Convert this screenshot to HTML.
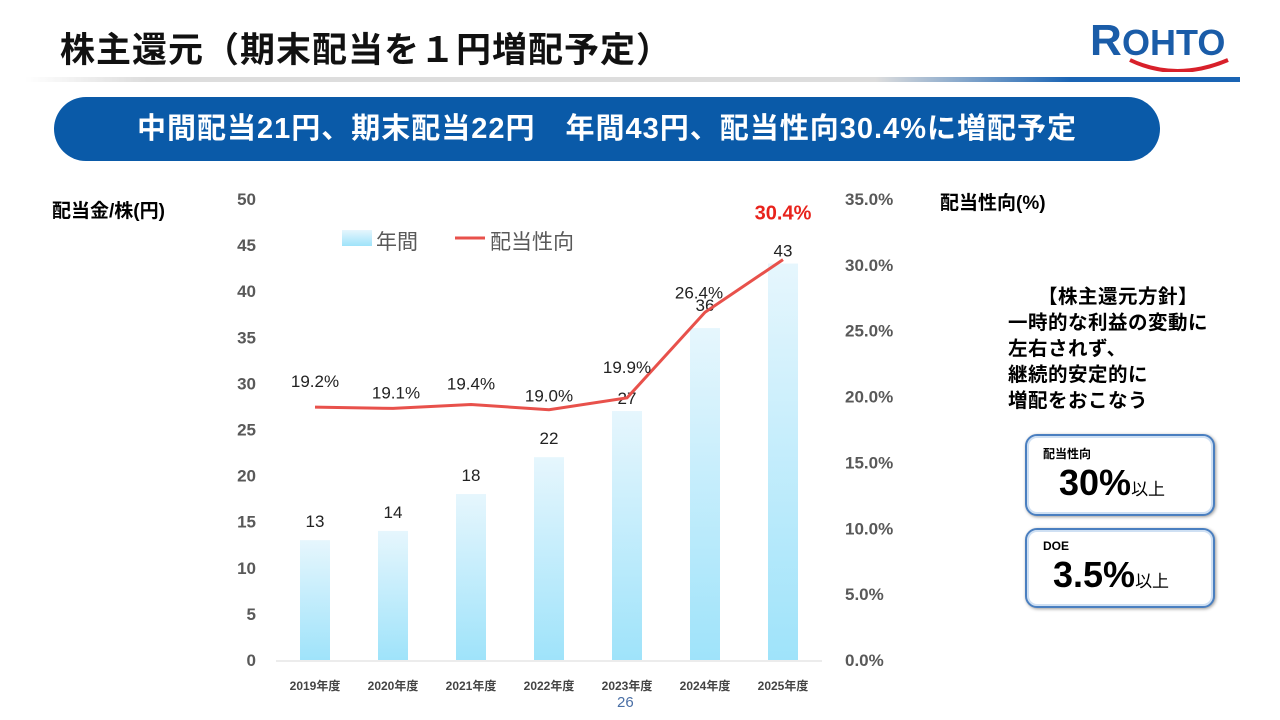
<!DOCTYPE html>
<html><head><meta charset="utf-8">
<style>
body{margin:0;width:1280px;height:720px;background:#fff;position:relative;overflow:hidden;font-family:"Liberation Sans","Noto Sans CJK JP",sans-serif;}
.abs{position:absolute;}
.title{left:60px;top:22px;font-size:35px;font-weight:bold;color:#111;letter-spacing:1px;}
.hline{left:25px;top:77px;width:1215px;height:5px;background:linear-gradient(90deg,#fff 0%,#ddd 10%,#ddd 70%,#1a64b4 86%,#1a64b4 100%);}
.pill{left:54px;top:97px;width:1106px;height:64px;border-radius:32px;background:#0a5aa8;color:#fff;font-size:29px;font-weight:bold;text-align:center;line-height:64px;letter-spacing:1px;}
.box{border:2px solid #4a7fc0;border-radius:12px;box-shadow:inset 0 0 0 2px #cfe0f3,1px 1px 3px #999;background:#fff;}
</style></head><body>
<div class="abs title">株主還元（期末配当を１円増配予定）</div>
<div class="abs" style="left:1088px;top:10px;width:155px;height:62px;">
<svg width="155" height="62"><text x="2" y="45" font-family="Liberation Sans" font-weight="bold" font-size="44" fill="#1a5ca8">R</text><text x="34" y="45" font-family="Liberation Sans" font-weight="bold" font-size="36" fill="#1a5ca8">OHTO</text><path d="M42 50 Q88 72 140 50" stroke="#d8202a" stroke-width="4" fill="none"/></svg></div>
<div class="abs hline"></div>
<div class="abs pill">中間配当21円、期末配当22円　年間43円、配当性向30.4%に増配予定</div>
<div class="abs" style="left:52px;top:196px;font-size:19px;font-weight:bold;">配当金/株(円)</div>
<div class="abs" style="left:940px;top:188px;font-size:19px;font-weight:bold;">配当性向(%)</div>
<div class="abs" style="left:1008px;top:284px;font-size:19.5px;font-weight:bold;line-height:26px;letter-spacing:0.5px;"><div style="padding-left:30px">【株主還元方針】</div>一時的な利益の変動に<br>左右されず、<br>継続的安定的に<br>増配をおこなう</div>
<div class="abs box" style="left:1025px;top:434px;width:186px;height:78px;"><div style="position:absolute;left:16px;top:9px;font-size:12px;font-weight:bold;">配当性向</div><div style="position:absolute;left:32px;top:26px;font-size:36px;font-weight:bold;">30%<span style="font-size:17px;font-weight:normal">以上</span></div></div>
<div class="abs box" style="left:1025px;top:528px;width:186px;height:76px;"><div style="position:absolute;left:16px;top:9px;font-size:12px;font-weight:bold;">DOE</div><div style="position:absolute;left:26px;top:24px;font-size:36px;font-weight:bold;">3.5%<span style="font-size:17px;font-weight:normal">以上</span></div></div>
<div class="abs" style="left:617px;top:694px;font-size:15px;color:#4a6fa5;">26</div>
<svg class="abs" style="left:0;top:0" width="1280" height="720" id="chart">
<defs><linearGradient id="bg" x1="0" y1="0" x2="0" y2="1"><stop offset="0" stop-color="#e6f6fd"/><stop offset="1" stop-color="#9fe3fa"/></linearGradient></defs>
</svg>
<script>
const categories=["2019年度","2020年度","2021年度","2022年度","2023年度","2024年度","2025年度"];
const dividends=[13,14,18,22,27,36,43];
const payout=[19.2,19.1,19.4,19.0,19.9,26.4,30.4];
const leftTicks=[0,5,10,15,20,25,30,35,40,45,50];
const rightTicks=[0,5,10,15,20,25,30,35];
const NS="http://www.w3.org/2000/svg",svg=document.getElementById('chart');
const y0=660,yTop=199;
const yL=v=>y0-(v/50)*(y0-yTop), yR=v=>y0-(v/35)*(y0-yTop), xC=i=>315+i*78;
function mk(t,a,txt){const e=document.createElementNS(NS,t);for(const k in a)e.setAttribute(k,a[k]);if(txt!=null)e.textContent=txt;svg.appendChild(e);return e;}
const ax=mk('line',{x1:276,x2:822,y1:y0+1,y2:y0+1,stroke:'#d9d9d9','stroke-width':1});

leftTicks.forEach(v=>{const t=mk('text',{x:256,y:yL(v)+6,'text-anchor':'end','font-size':17,'font-weight':'bold',fill:'#595959','font-family':'Liberation Sans'},v);
});
rightTicks.forEach(v=>{const t=mk('text',{x:845,y:yR(v)+6,'font-size':17,'font-weight':'bold',fill:'#595959','font-family':'Liberation Sans'},v.toFixed(1)+'%');
});
dividends.forEach((v,i)=>{const b=mk('rect',{x:xC(i)-15,y:yL(v),width:30,height:y0-yL(v),fill:'url(#bg)'});

const l=mk('text',{x:xC(i),y:yL(v)-13+(i==5?-10:0)+(i>=4?6:0),'text-anchor':'middle','font-size':17,fill:'#222','font-family':'Liberation Sans'},v);

const c=mk('text',{x:xC(i),y:690,'text-anchor':'middle','font-size':12,'font-weight':'bold',fill:'#444','font-family':'Liberation Sans, Noto Sans CJK JP, sans-serif'},categories[i]);
});
const pl=mk('polyline',{points:payout.map((v,i)=>xC(i)+','+yR(v)).join(' '),fill:'none',stroke:'#e8514b','stroke-width':3});

payout.forEach((v,i)=>{const last=i==payout.length-1;const off=[-20,-10,-15,-8,-25,-14,-40][i];
const t=mk('text',{x:xC(i)-(i==5?6:0)+(i==1?3:0),y:yR(v)+off,'text-anchor':'middle','font-size':last?20:17,'font-weight':last?'bold':'normal',fill:last?'#e8231c':'#222','font-family':'Liberation Sans'},v.toFixed(1)+'%');
});
const lg1=mk('rect',{x:342,y:230,width:30,height:16,fill:'url(#bg)'});
const lt1=mk('text',{x:376,y:249,'font-size':21,fill:'#595959','font-family':'Noto Sans CJK JP, sans-serif'},'年間');
const lg2=mk('line',{x1:455,x2:485,y1:238,y2:238,stroke:'#e8514b','stroke-width':3});
const lt2=mk('text',{x:490,y:249,'font-size':21,fill:'#595959','font-family':'Noto Sans CJK JP, sans-serif'},'配当性向');
</script>
</body></html>
